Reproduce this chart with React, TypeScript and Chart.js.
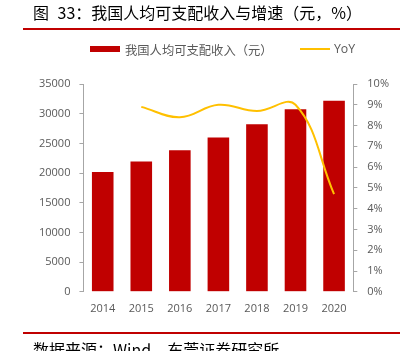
import React, { useEffect, useRef } from "react";
import { Chart, registerables } from "chart.js";

Chart.register(...registerables);

const years = ["2014", "2015", "2016", "2017", "2018", "2019", "2020"];
const income = [20167, 21966, 23821, 25974, 28228, 30733, 32189];
const yoy = [null, 8.9, 8.4, 9.0, 8.7, 9.0, 4.7];
const leftTicks = { min: 0, max: 35000, step: 5000 };
const rightTicks = { min: 0, max: 10, step: 1 };

const titleHead = "图 ";
const titleRest = "33：我国人均可支配收入与增速（元，%）";
const barLabel = "我国人均可支配收入（元）";
const lineLabel = "YoY";
const sourceText = "数据来源：Wind，东莞证券研究所";

const RED = "#C00000";
const YELLOW = "#FFC000";
const GREY_TEXT = "#595959";
const AXIS = "#a6a6a6";
const TICK_FONT = { family: "'Open Sans', 'Noto Sans CJK SC', sans-serif", size: 11 };
const CJK = "'Noto Sans CJK SC', 'Noto Sans', sans-serif";

export default function App() {
  const ref = useRef<HTMLCanvasElement | null>(null);

  useEffect(() => {
    if (!ref.current) return;
    const chart = new Chart(ref.current, {
      type: "bar",
      data: {
        labels: years,
        datasets: [
          {
            type: "line",
            label: lineLabel,
            data: yoy as any,
            yAxisID: "y1",
            borderColor: YELLOW,
            backgroundColor: YELLOW,
            borderWidth: 2,
            pointRadius: 0,
            tension: 0.4,
            spanGaps: false,
            order: 0,
          } as any,
          {
            type: "bar",
            label: barLabel,
            data: income,
            yAxisID: "y",
            backgroundColor: RED,
            borderWidth: 0,
            barPercentage: 0.56,
            categoryPercentage: 1,
            order: 1,
          },
        ],
      },
      options: {
        animation: false,
        responsive: false,
        maintainAspectRatio: false,
        layout: { padding: { top: 84, left: 30, right: 13, bottom: 26 } },
        plugins: { legend: { display: false }, tooltip: { enabled: false } },
        scales: {
          x: {
            grid: { display: false, drawTicks: false },
            border: { display: false },
            ticks: { color: GREY_TEXT, font: TICK_FONT, padding: 10 },
          },
          y: {
            position: "left",
            min: leftTicks.min,
            max: leftTicks.max,
            ticks: {
              stepSize: leftTicks.step,
              color: GREY_TEXT,
              font: TICK_FONT,
              padding: 9,
              callback: (v: any) => String(v),
            },
            grid: { drawOnChartArea: false, color: AXIS, tickLength: 4 },
            border: { display: true, color: AXIS },
          },
          y1: {
            position: "right",
            min: rightTicks.min,
            max: rightTicks.max,
            ticks: {
              stepSize: rightTicks.step,
              color: GREY_TEXT,
              font: TICK_FONT,
              padding: 10,
              callback: (v: any) => v + "%",
            },
            grid: { drawOnChartArea: false, color: AXIS, tickLength: 4 },
            border: { display: true, color: AXIS },
          },
        },
      },
    });
    return () => chart.destroy();
  }, []);

  return (
    <div
      style={{
        position: "fixed",
        left: 0,
        top: 0,
        width: 412,
        height: 351,
        overflow: "hidden",
        background: "#fff",
        fontFamily: CJK,
      }}
    >
      <canvas ref={ref} width={412} height={351} style={{ position: "absolute", left: 0, top: 0 }} />
      <div style={{ position: "absolute", left: 33, top: 2, fontSize: 16, lineHeight: "20px", color: "#000", whiteSpace: "pre" }}>
        <span style={{ marginRight: 5 }}>{titleHead}</span>
        {titleRest}
      </div>
      <div style={{ position: "absolute", left: 23, top: 28, width: 377, height: 2, background: RED }} />
      <div style={{ position: "absolute", left: 90, top: 45.5, width: 30, height: 6.5, background: RED }} />
      <div style={{ position: "absolute", left: 125, top: 40.5, fontSize: 12.3, lineHeight: "18px", color: GREY_TEXT, whiteSpace: "nowrap" }}>
        {barLabel}
      </div>
      <div style={{ position: "absolute", left: 300, top: 48, width: 30, height: 2, background: YELLOW }} />
      <div style={{ position: "absolute", left: 334, top: 40, fontSize: 12.3, lineHeight: "18px", color: GREY_TEXT, whiteSpace: "nowrap", fontFamily: "'Open Sans', sans-serif" }}>
        {lineLabel}
      </div>
      <div style={{ position: "absolute", left: 23, top: 331.5, width: 377, height: 2, background: RED }} />
      <div style={{ position: "absolute", left: 33, top: 338.5, fontSize: 16, lineHeight: "20px", color: "#000", whiteSpace: "nowrap" }}>
        {sourceText}
      </div>
    </div>
  );
}
